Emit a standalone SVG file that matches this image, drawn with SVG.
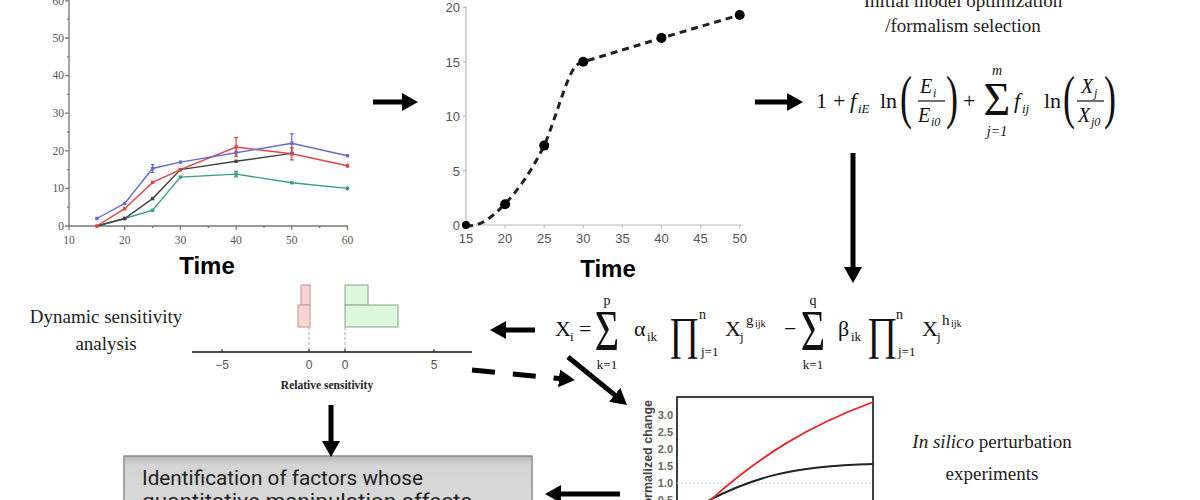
<svg xmlns="http://www.w3.org/2000/svg" width="1200" height="500" viewBox="0 0 1200 500">
<defs>
<marker id="ah" markerUnits="userSpaceOnUse" markerWidth="18" markerHeight="18" refX="4" refY="9" orient="auto"><path d="M0,0 L16,9 L0,18 z" fill="#000"/></marker>
<linearGradient id="boxg" x1="0" y1="0" x2="0" y2="1"><stop offset="0" stop-color="#b5b5b5"/><stop offset="0.15" stop-color="#d4d4d4"/><stop offset="1" stop-color="#dadada"/></linearGradient>
<clipPath id="pc"><rect x="677" y="397" width="196" height="103"/></clipPath>
</defs>
<style>
.conn{stroke:#000;stroke-width:5;fill:none;marker-end:url(#ah)}
.tk1{font-family:"Liberation Serif",serif;font-size:11.5px;fill:#555}
.tk2{font-family:"Liberation Sans",Arial,sans-serif;font-size:13px;fill:#555}
.tk3{font-family:"Liberation Sans",Arial,sans-serif;font-size:11px;font-weight:bold;fill:#666;text-anchor:end}
.time{font-family:"Liberation Sans",Arial,sans-serif;font-size:24px;font-weight:bold;fill:#000;text-anchor:middle}
.lbl{font-family:"Liberation Serif",serif;font-size:19px;fill:#222;text-anchor:middle}
.m{font-family:"Liberation Serif",serif;fill:#111}
.i{font-style:italic}
.c{text-anchor:middle}
.ax1{stroke:#777;stroke-width:1.3;fill:none}
.ax2{stroke:#bbb;stroke-width:1.2;fill:none}
.eb{stroke-width:1.2;fill:none}
</style>

<!-- Chart 1: experimental data -->
<g id="chart-experimental">
<path class="ax1" d="M69,0 V226 H348"/>
<path class="ax1" d="M65,226H69M65,188.4H69M65,150.8H69M65,113.2H69M65,75.6H69M65,38H69M65,0.8H69M67,207.2H69M67,169.6H69M67,132H69M67,94.4H69M67,56.8H69M67,19.2H69"/>
<path class="ax1" d="M69,226V230M124.7,226V230M180.4,226V230M236.1,226V230M291.8,226V230M347.5,226V230M96.9,226V228M152.6,226V228M208.3,226V228M264,226V228M319.7,226V228"/>
<g class="tk1" text-anchor="end">
<text x="64" y="230">0</text><text x="64" y="192">10</text><text x="64" y="155">20</text><text x="64" y="117">30</text><text x="64" y="79">40</text><text x="64" y="42">50</text><text x="64" y="5">60</text>
</g>
<g class="tk1" text-anchor="middle">
<text x="69" y="244">10</text><text x="124.7" y="244">20</text><text x="180.4" y="244">30</text><text x="236.1" y="244">40</text><text x="291.8" y="244">50</text><text x="347.5" y="244">60</text>
</g>
<polyline fill="none" stroke="#3a9c8c" stroke-width="1.4" points="96.9,226 124.7,218.5 152.6,210.2 180.4,177.1 236.1,174.1 291.8,182.8 347.5,188.4"/>
<polyline fill="none" stroke="#444" stroke-width="1.4" points="96.9,226 124.7,218.5 152.6,198.6 180.4,169.6 236.1,161.3 291.8,153.4"/>
<polyline fill="none" stroke="#e04545" stroke-width="1.4" points="96.9,226 124.7,208.7 152.6,182.4 180.4,169.6 236.1,147 291.8,153.8 347.5,165.8"/>
<polyline fill="none" stroke="#6a6ad2" stroke-width="1.4" points="96.9,218.5 124.7,203.4 152.6,168.5 180.4,162.1 236.1,152.7 291.8,143.3 347.5,155.7"/>
<g fill="#3a9c8c"><rect x="123" y="216.8" width="3.4" height="3.4"/><rect x="150.9" y="208.5" width="3.4" height="3.4"/><rect x="178.7" y="175.4" width="3.4" height="3.4"/><rect x="234.4" y="172.4" width="3.4" height="3.4"/><rect x="290.1" y="181.1" width="3.4" height="3.4"/><rect x="345.8" y="186.7" width="3.4" height="3.4"/></g>
<g fill="#444"><rect x="123" y="216.8" width="3.4" height="3.4"/><rect x="150.9" y="196.9" width="3.4" height="3.4"/><rect x="178.7" y="167.9" width="3.4" height="3.4"/><rect x="234.4" y="159.6" width="3.4" height="3.4"/><rect x="290.1" y="151.7" width="3.4" height="3.4"/></g>
<g fill="#e04545"><rect x="95.2" y="224.3" width="3.4" height="3.4"/><rect x="123" y="207" width="3.4" height="3.4"/><rect x="150.9" y="180.7" width="3.4" height="3.4"/><rect x="178.7" y="167.9" width="3.4" height="3.4"/><rect x="234.4" y="145.3" width="3.4" height="3.4"/><rect x="290.1" y="152.1" width="3.4" height="3.4"/><rect x="345.8" y="164.1" width="3.4" height="3.4"/></g>
<g fill="#6a6ad2"><rect x="95.2" y="216.8" width="3.4" height="3.4"/><rect x="123" y="201.7" width="3.4" height="3.4"/><rect x="150.9" y="166.8" width="3.4" height="3.4"/><rect x="178.7" y="160.4" width="3.4" height="3.4"/><rect x="234.4" y="151" width="3.4" height="3.4"/><rect x="290.1" y="141.6" width="3.4" height="3.4"/><rect x="345.8" y="154" width="3.4" height="3.4"/></g>
<path class="eb" stroke="#6a6ad2" d="M152.6,164.5V172.5M150.6,164.5H154.6M150.6,172.5H154.6M291.8,133.9V152.7M289.8,133.9H293.8M289.8,152.7H293.8M236.1,149V156.5"/>
<path class="eb" stroke="#e04545" d="M236.1,137.6V156.4M234.1,137.6H238.1M234.1,156.4H238.1M291.8,147.8V159.8M289.8,147.8H293.8M289.8,159.8H293.8M347.5,163.5V168.1"/>
<path class="eb" stroke="#3a9c8c" d="M236.1,171.4V176.8M234.1,171.4H238.1M234.1,176.8H238.1M347.5,186V190.8"/>
<text class="time" x="207" y="274">Time</text>
</g>

<!-- Chart 2: smoothed data -->
<g id="chart-smoothed">
<path class="ax2" d="M466,6 V225 H743"/>
<path class="ax2" d="M463,225H466M463,170.6H466M463,116.2H466M463,61.8H466M463,7.4H466M466,225V228M505.1,225V228M544.2,225V228M583.3,225V228M622.4,225V228M661.5,225V228M700.6,225V228M739.7,225V228"/>
<g class="tk2" text-anchor="end">
<text x="460" y="230">0</text><text x="460" y="176">5</text><text x="460" y="121">10</text><text x="460" y="67">15</text><text x="460" y="12">20</text>
</g>
<g class="tk2" text-anchor="middle">
<text x="466" y="243">15</text><text x="505.1" y="243">20</text><text x="544.2" y="243">25</text><text x="583.3" y="243">30</text><text x="622.4" y="243">35</text><text x="661.5" y="243">40</text><text x="700.6" y="243">45</text><text x="739.7" y="243">50</text>
</g>
<path d="M466,225 C480,229 495,214 505,204 C520,188 532,170 544,146 C556,118 566,78 575,67 Q578,63 583,62 L661.5,38 L739.7,15" fill="none" stroke="#222" stroke-width="3" stroke-dasharray="7,5"/>
<g fill="#000"><circle cx="466" cy="225" r="4"/><circle cx="505.1" cy="204.3" r="5"/><circle cx="544.2" cy="145.6" r="5"/><circle cx="583.3" cy="61.8" r="5"/><circle cx="661.5" cy="37.9" r="5"/><circle cx="739.7" cy="15" r="5"/></g>
<text class="time" x="608" y="277">Time</text>
</g>

<!-- Formalism selection -->
<g id="formalism">
<text class="lbl" x="963" y="7">Initial model optimization</text>
<text class="lbl" x="963" y="32">/formalism selection</text>
<g class="m" font-size="22">
<text x="816" y="108">1</text>
<text x="833" y="108">+</text>
<text class="i" x="850" y="108">f</text>
<text class="i" x="858" y="113" font-size="13">iE</text>
<text x="880" y="108">ln</text>
<text font-size="60" transform="translate(900,117) scale(0.6,1)">(</text>
<text class="i" x="920" y="93" font-size="20">E</text>
<text class="i" x="933" y="97" font-size="12">i</text>
<path d="M918,101H945" stroke="#111" stroke-width="1.2"/>
<text class="i" x="918" y="122" font-size="20">E</text>
<text class="i" x="931" y="126" font-size="12">i0</text>
<text font-size="60" transform="translate(946,117) scale(0.6,1)">)</text>
<text x="963" y="108">+</text>
<text class="c" x="997" y="115" font-size="46">Σ</text>
<text class="i c" x="997" y="75" font-size="14">m</text>
<text class="i c" x="997" y="136" font-size="14">j=1</text>
<text class="i" x="1014" y="108">f</text>
<text class="i" x="1022" y="113" font-size="13">ij</text>
<text x="1044" y="108">ln</text>
<text font-size="60" transform="translate(1063,117) scale(0.6,1)">(</text>
<text class="i" x="1081" y="93" font-size="20">X</text>
<text class="i" x="1094" y="97" font-size="12">j</text>
<path d="M1077,101H1104" stroke="#111" stroke-width="1.2"/>
<text class="i" x="1078" y="122" font-size="20">X</text>
<text class="i" x="1091" y="126" font-size="12">j0</text>
<text font-size="60" transform="translate(1104,117) scale(0.6,1)">)</text>
</g>
</g>

<!-- S-system equation -->
<g id="s-system" class="m" font-size="22">
<text x="555" y="336">X</text><text x="570" y="341" font-size="13">i</text>
<text x="579" y="336">=</text>
<text class="c" font-size="56" transform="translate(607,350) scale(0.75,1)">Σ</text>
<text class="c" x="607" y="305" font-size="14">p</text>
<text class="c" x="607" y="369" font-size="13">k=1</text>
<text x="634" y="336">α</text><text x="647" y="341" font-size="13">ik</text>
<text class="c" font-size="46" transform="translate(684,349) scale(0.8,1)">∏</text>
<text x="699" y="319" font-size="14">n</text>
<text x="701" y="356" font-size="13">j=1</text>
<text x="725" y="336">X</text><text x="740" y="341" font-size="13">j</text>
<text x="746" y="325" font-size="15">g</text><text x="755" y="327" font-size="10">ijk</text>
<text x="784" y="336">−</text>
<text class="c" font-size="56" transform="translate(813,350) scale(0.75,1)">Σ</text>
<text class="c" x="813" y="305" font-size="14">q</text>
<text class="c" x="813" y="369" font-size="13">k=1</text>
<text x="838" y="336">β</text><text x="851" y="341" font-size="13">ik</text>
<text class="c" font-size="46" transform="translate(882,349) scale(0.8,1)">∏</text>
<text x="896" y="319" font-size="14">n</text>
<text x="898" y="356" font-size="13">j=1</text>
<text x="922" y="336">X</text><text x="937" y="341" font-size="13">j</text>
<text x="942" y="325" font-size="15">h</text><text x="951" y="327" font-size="10">ijk</text>
</g>

<!-- Dynamic sensitivity analysis -->
<g id="sensitivity">
<text class="lbl" x="106" y="323">Dynamic sensitivity</text>
<text class="lbl" x="106" y="350">analysis</text>
<path d="M309,327V350M345,327V350" stroke="#aaa" stroke-width="1" stroke-dasharray="3,2"/>
<rect x="301" y="285" width="9" height="20" fill="#f9d4d4" stroke="#c9a0a0" stroke-width="1.2"/>
<rect x="298" y="305" width="12" height="22" fill="#f9d4d4" stroke="#c9a0a0" stroke-width="1.2"/>
<rect x="345" y="285" width="23" height="20" fill="#dcf8dc" stroke="#9ab09a" stroke-width="1.2"/>
<rect x="345" y="305" width="53" height="22" fill="#dcf8dc" stroke="#9ab09a" stroke-width="1.2"/>
<path d="M192,352H472" stroke="#111" stroke-width="1.5"/>
<path d="M222,352V349M309,352V349M345,352V349M434,352V349" stroke="#111" stroke-width="1"/>
<g font-family="'Liberation Sans',Arial,sans-serif" font-size="12" fill="#555" text-anchor="middle">
<text x="222" y="369">−5</text><text x="309" y="369">0</text><text x="345" y="369">0</text><text x="434" y="369">5</text>
</g>
<text x="327" y="389" font-family="'Liberation Serif',serif" font-size="11.5" font-weight="bold" fill="#222" text-anchor="middle">Relative sensitivity</text>
</g>

<!-- In silico perturbation chart -->
<g id="perturbation">
<rect x="677" y="397" width="196" height="110" fill="#fff" stroke="#111" stroke-width="1.6"/>
<path d="M677,483H873" stroke="#ccc" stroke-width="1" stroke-dasharray="2,2"/>
<g clip-path="url(#pc)">
<path d="M700,505 C750,478 790,466 873,464" fill="none" stroke="#222" stroke-width="2"/>
<path d="M705,505 C760,455 810,425 873,402" fill="none" stroke="#e8282a" stroke-width="1.8"/>
</g>
<g class="tk3">
<text x="673" y="419">3.0</text><text x="673" y="436">2.5</text><text x="673" y="453">2.0</text><text x="673" y="470">1.5</text><text x="673" y="487">1.0</text><text x="673" y="504">0.5</text>
</g>
<text transform="translate(652,400) rotate(-90)" font-family="'Liberation Sans',Arial,sans-serif" font-size="12.5" font-weight="bold" fill="#444" text-anchor="end">Normalized change</text>
<text class="lbl" x="992" y="448"><tspan font-style="italic">In silico</tspan> perturbation</text>
<text class="lbl" x="992" y="480">experiments</text>
</g>

<!-- Result box -->
<g id="result-box">
<rect x="124" y="456" width="408" height="60" fill="url(#boxg)" stroke="#8c8c8c" stroke-width="1.5"/>
<g font-family="Roboto,'Liberation Sans',sans-serif" font-size="20" fill="#222">
<text x="142" y="485" textLength="281" lengthAdjust="spacingAndGlyphs">Identification  of factors whose</text>
<text x="142" y="508" textLength="330" lengthAdjust="spacingAndGlyphs">quantitative  manipulation  affects</text>
</g>
</g>

<!-- Connectors -->
<g id="connectors">
<line class="conn" x1="373" y1="102" x2="406" y2="102"/>
<line class="conn" x1="755" y1="102" x2="791" y2="102"/>
<line class="conn" x1="853" y1="153" x2="853" y2="271"/>
<line class="conn" x1="535" y1="330" x2="502" y2="330"/>
<line class="conn" x1="472" y1="370" x2="563" y2="378.8" stroke-dasharray="23,18"/>
<line class="conn" x1="568" y1="357" x2="617.7" y2="397.4"/>
<line class="conn" x1="331" y1="405" x2="331" y2="445"/>
<line class="conn" x1="620" y1="494" x2="557" y2="494"/>
</g>
</svg>
